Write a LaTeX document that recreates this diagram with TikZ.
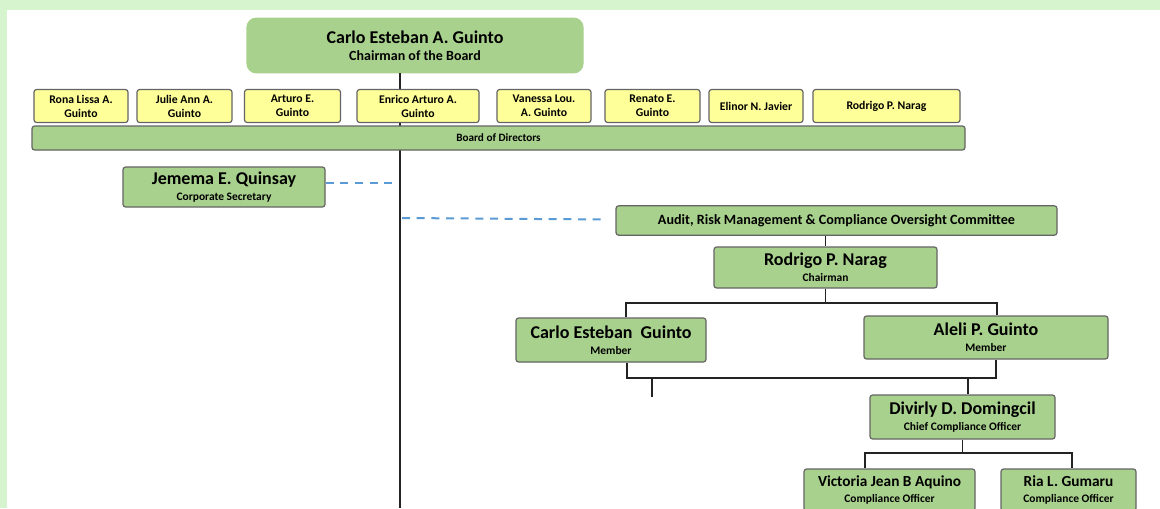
\documentclass[tikz,border=0pt]{standalone}
\usepackage{fontspec}
\setmainfont{Carlito}
\definecolor{bggreen}{RGB}{214,245,206}
\definecolor{boxgreen}{RGB}{169,209,142}
\definecolor{edgegray}{RGB}{100,100,100}
\definecolor{diryellow}{RGB}{255,255,153}
\definecolor{dashblue}{RGB}{91,155,213}
\definecolor{linegray}{RGB}{35,35,35}
\newcommand{\namefont}{\fontsize{13.5}{15}\selectfont}
\newcommand{\subfont}{\fontsize{8.6}{10}\selectfont}
\tikzset{
  member/.style={draw=edgegray, line width=0.9pt, fill=boxgreen, rounded corners=2pt,
    inner sep=0pt, align=center, font=\bfseries, text=black},
  director/.style={member, fill=diryellow, font=\bfseries\fontsize{8.8}{10.5}\selectfont},
  link/.style={draw=linegray, line width=1.3pt},
  bluedash/.style={draw=dashblue, line width=1.5pt, dash pattern=on 6pt off 5pt},
}
\begin{document}
\begin{tikzpicture}[x=0.75pt,y=0.75pt,yscale=-1,xscale=1]
\useasboundingbox (0,0) rectangle (1160,508);
%Background
\fill[white] (0,0) rectangle (1160,508);
\fill[bggreen] (0,0) rectangle (1160,10);
\fill[bggreen] (0,0) rectangle (7,508);

%Coordinates of the connectors
\coordinate (spine) at (400,508);
\coordinate (dashA) at (398,183);
\coordinate (dashB) at (402,218);
\coordinate (dashC) at (606,219.5);
\coordinate (topL) at (626,303);
\coordinate (topR) at (997,303);
\coordinate (lowL) at (627,378);
\coordinate (lowR) at (996,378);
\coordinate (lowD) at (968,378);
\coordinate (stub) at (652,397);
\coordinate (ccoL) at (865,453);
\coordinate (ccoR) at (1072,453);

%Chairman of the Board
\node[member, draw=boxgreen, rounded corners=7pt, minimum width=252pt, minimum height=41pt] (chair) at (415,45.5)
  {{\fontsize{13.5}{16}\selectfont Carlo Esteban A. Guinto}\\[1pt]{\fontsize{10.5}{12}\selectfont Chairman of the Board}};

%Straight Lines
\draw[link] (spine |- chair.south) -- (spine);

%Board of Directors
\node[director, minimum width=70.5pt, minimum height=24.75pt] (rona) at (81,106) {Rona Lissa A.\\Guinto};
\node[director, minimum width=71.25pt, minimum height=24.75pt] (julie) at (184.5,106) {Julie Ann A.\\Guinto};
\node[director, minimum width=72pt, minimum height=24.75pt] (arturo) at (292.5,106) {Arturo E.\\Guinto};
\node[director, minimum width=91.5pt, minimum height=24.75pt] (enrico) at (418,106) {Enrico Arturo A.\\Guinto};
\node[director, minimum width=70.5pt, minimum height=24.75pt] (vanessa) at (544,106) {Vanessa Lou.\\A. Guinto};
\node[director, minimum width=71.25pt, minimum height=24.75pt] (renato) at (652.5,106) {Renato E.\\Guinto};
\node[director, minimum width=70.5pt, minimum height=24.75pt] (elinor) at (756,106) {Elinor N. Javier};
\node[director, minimum width=110.25pt, minimum height=24.75pt] (rodrigo) at (886.5,106) {Rodrigo P. Narag};
\node[member, font=\bfseries\fontsize{8.4}{10}\selectfont, minimum width=699.75pt, minimum height=18pt] (board) at (498.5,138) {Board of Directors};

%Corporate Secretary
\node[member, minimum width=151.5pt, minimum height=30pt] (jemema) at (224,187)
  {{\fontsize{13.5}{15}\selectfont Jemema E. Quinsay}\\{\subfont Corporate Secretary}};
\draw[bluedash] (dashA -| jemema.east) -- (dashA);

%Committee
\draw[bluedash] (dashB) -- (dashC);
\node[member, font=\bfseries\fontsize{10.6}{12}\selectfont, minimum width=330.75pt, minimum height=22pt] (audit) at (836.5,220.5)
  {Audit, Risk Management \& Compliance Oversight Committee};
\node[member, minimum width=167.25pt, minimum height=30.75pt] (narag) at (825.5,267.5)
  {{\namefont Rodrigo P. Narag}\\{\subfont Chairman}};
\draw[link] (narag.north |- audit.south) -- (narag.north);

%Members
\node[member, minimum width=142.5pt, minimum height=33pt] (carlo) at (611,340)
  {{\namefont Carlo Esteban\ \ Guinto}\\{\subfont Member}};
\node[member, minimum width=183pt, minimum height=32.25pt] (aleli) at (986,337.5)
  {{\namefont Aleli P. Guinto}\\{\subfont Member}};
\draw[link] (narag.south) -- (narag.south |- topL);
\draw[link] (topL |- carlo.north) -- (topL) -- (topR) -- (topR |- aleli.north);
\draw[link] (lowL |- carlo.south) -- (lowL) -- (lowR) -- (lowR |- aleli.south);
\draw[link] (stub |- lowL) -- (stub);

%Compliance
\node[member, minimum width=138.75pt, minimum height=33pt] (divirly) at (962.5,417)
  {{\namefont Divirly D. Domingcil}\\{\subfont Chief Compliance Officer}};
\draw[link] (lowD) -- (lowD |- divirly.north);
\node[member, minimum width=128.25pt, minimum height=31.5pt] (victoria) at (889.5,490)
  {{\fontsize{11.5}{13}\selectfont Victoria Jean B Aquino}\\{\subfont Compliance Officer}};
\node[member, minimum width=101.25pt, minimum height=31.5pt] (ria) at (1068.5,490)
  {{\fontsize{11.5}{13}\selectfont Ria L. Gumaru}\\{\subfont Compliance Officer}};
\draw[link] (divirly.south) -- (divirly.south |- ccoL);
\draw[link] (ccoL |- victoria.north) -- (ccoL) -- (ccoR) -- (ccoR |- ria.north);

\end{tikzpicture}
\end{document}
